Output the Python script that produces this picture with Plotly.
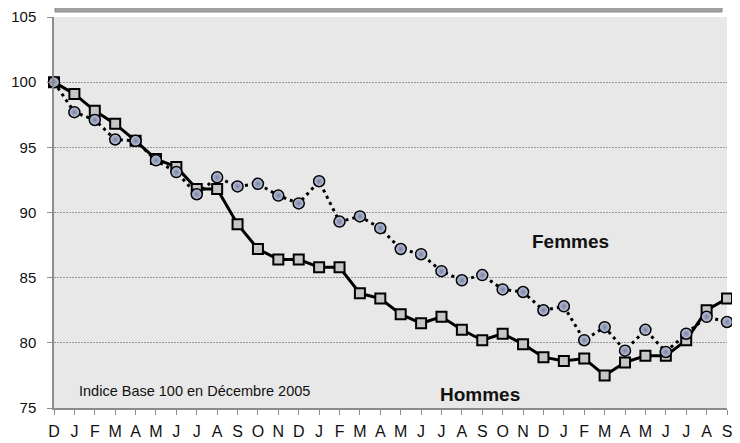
import plotly.graph_objects as go

# Indice base 100 en décembre 2005
mois = ["D", "J", "F", "M", "A", "M", "J", "J", "A", "S", "O", "N",
        "D", "J", "F", "M", "A", "M", "J", "J", "A", "S", "O", "N",
        "D", "J", "F", "M", "A", "M", "J", "J", "A", "S"]

hommes = [100, 99.1, 97.8, 96.8, 95.5, 94.1, 93.5, 91.8, 91.8, 89.1, 87.2, 86.4,
          86.4, 85.8, 85.8, 83.8, 83.4, 82.2, 81.5, 82.0, 81.0, 80.2, 80.7, 79.9,
          78.9, 78.6, 78.8, 77.5, 78.5, 79.0, 79.0, 80.2, 82.5, 83.4]

femmes = [100, 97.7, 97.1, 95.6, 95.5, 94.0, 93.1, 91.4, 92.7, 92.0, 92.2, 91.3,
          90.7, 92.4, 89.3, 89.7, 88.8, 87.2, 86.8, 85.5, 84.8, 85.2, 84.1, 83.9,
          82.5, 82.8, 80.2, 81.2, 79.4, 81.0, 79.3, 80.7, 82.0, 81.6]

x = list(range(len(mois)))

fig = go.Figure()

fig.add_trace(go.Scatter(
    x=x, y=hommes, name="Hommes", mode="lines+markers", cliponaxis=False,
    line=dict(color="black", width=3),
    marker=dict(symbol="square", size=10, color="#c6c6c6",
                line=dict(color="black", width=2)),
))

fig.add_trace(go.Scatter(
    x=x, y=femmes, name="Femmes", mode="lines+markers", cliponaxis=False,
    line=dict(color="black", width=3, dash="3px,4px"),
    marker=dict(symbol="circle", size=11, color="#bec7e0",
                gradient=dict(type="radial", color="#7a82a0"),
                line=dict(color="black", width=1.5)),
))

# bandeau gris en haut (bas du cadre de titre)
fig.add_shape(type="rect", xref="paper", yref="paper",
              x0=0.0015, x1=0.9926, y0=1.0128, y1=1.03,
              fillcolor="#a0a0a0", line=dict(color="#8a8a8a", width=1))

fig.add_annotation(x=1.13, y=76.3, text="Indice Base 100 en Décembre 2005",
                   showarrow=False, xanchor="left",
                   font=dict(size=14.5, color="#111"))
fig.add_annotation(x=25.35, y=87.8, text="<b>Femmes</b>", showarrow=False,
                   font=dict(size=19, color="#111"))
fig.add_annotation(x=20.9, y=76.0, text="<b>Hommes</b>", showarrow=False,
                   font=dict(size=19, color="#111"))

fig.update_layout(
    width=732, height=435,
    margin=dict(l=46, r=13, t=9, b=35),
    paper_bgcolor="white",
    plot_bgcolor="#e8e8e8",
    showlegend=False,
    font=dict(family="Liberation Sans, Arial, sans-serif", color="#111"),
)

fig.update_xaxes(
    range=[0, 33], tickvals=x, ticktext=mois, automargin=False,
    showgrid=False, zeroline=False,
    showline=True, linecolor="#8c8c8c", linewidth=1.5,
    ticks="outside", ticklen=5, tickcolor="#8c8c8c",
    tickfont=dict(size=16), ticklabelstandoff=3,
)

fig.update_yaxes(
    range=[75, 105], dtick=5, zeroline=False, automargin=False,
    showgrid=True, gridcolor="#9a9a9a", gridwidth=1, griddash="2px,1px",
    showline=True, linecolor="#8c8c8c", linewidth=1.5,
    ticks="outside", ticklen=5, tickcolor="#8c8c8c",
    tickfont=dict(size=15), ticklabelstandoff=8,
)

fig.write_html("out.html")
